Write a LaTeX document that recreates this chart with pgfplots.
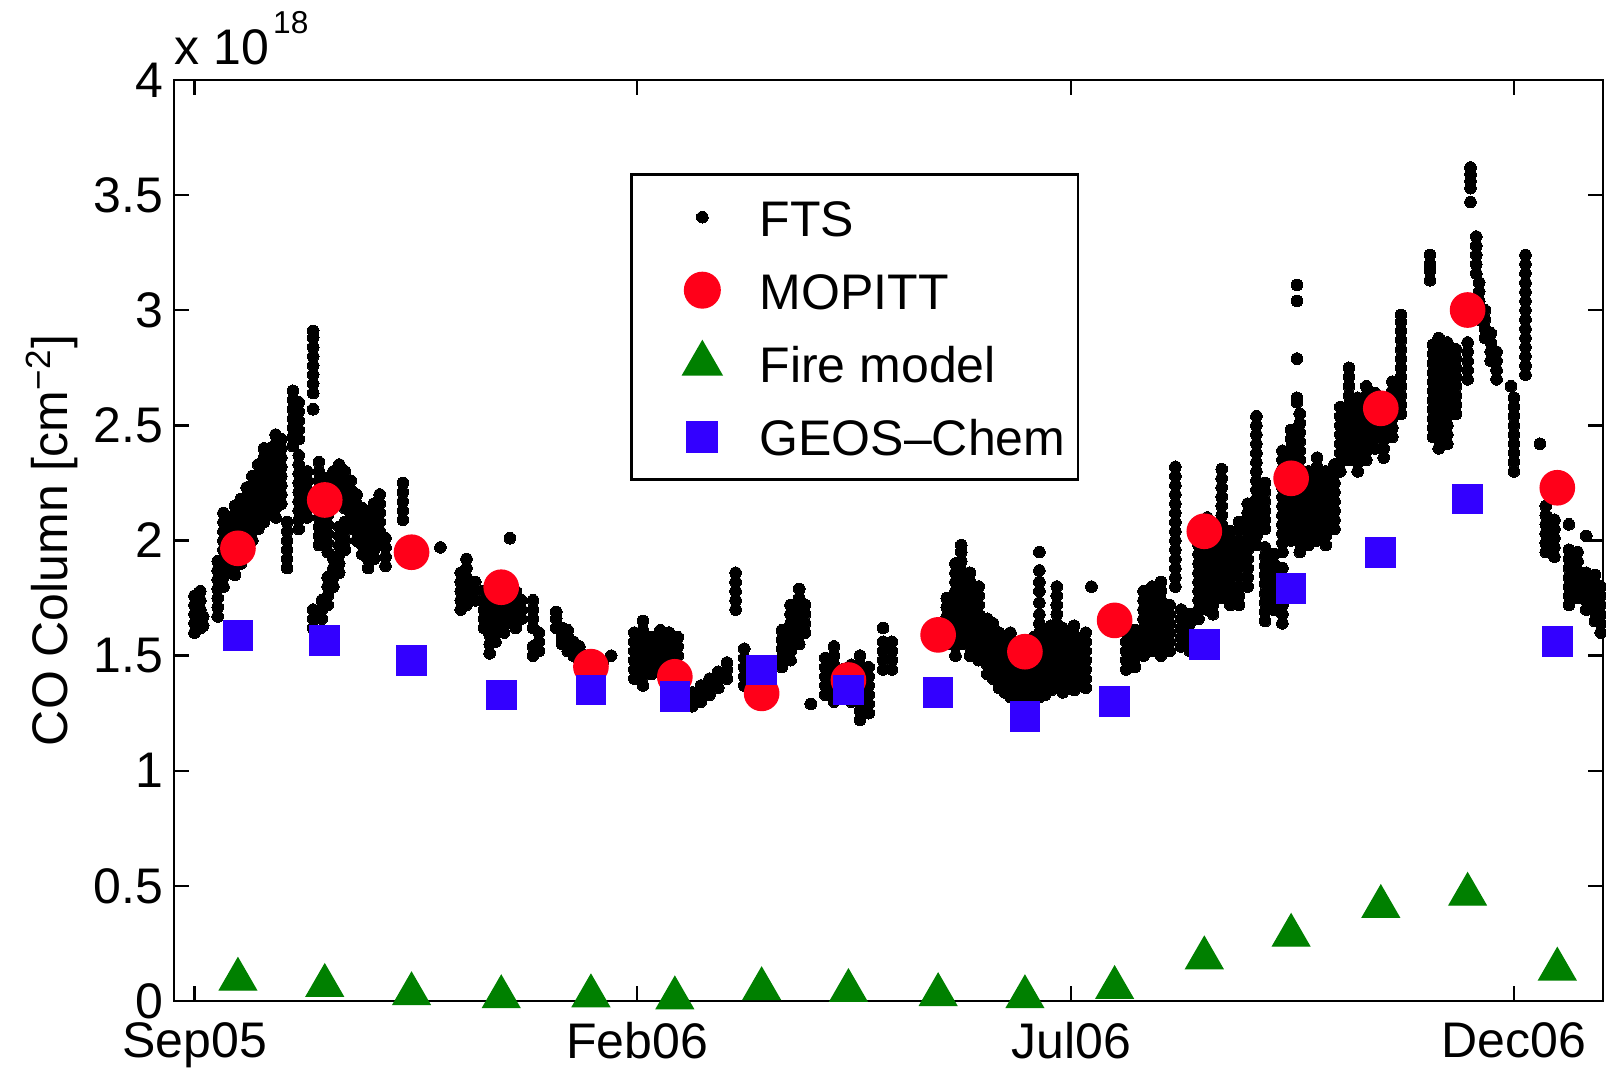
\documentclass[border=0pt]{standalone}
\usepackage{fontspec}
\setmainfont{Liberation Sans}
\usepackage{pgfplots}
\pgfplotsset{compat=1.18}

\definecolor{mopittred}{RGB}{255,0,25}
\definecolor{firegreen}{RGB}{0,128,0}
\definecolor{geosblue}{RGB}{51,0,255}
\newcommand\chartfont{\fontsize{15}{18}\selectfont}

% legend glyph: one mark, centred on the text, in a cell of fixed size
\pgfplotsset{mk legend/.style={legend image code/.code={%
  \path[draw=none, fill=none] (-17.5pt,-6.25pt) rectangle (7pt,6.25pt);
  \draw[##1] plot coordinates {(0pt,0pt)};}}}

\begin{document}
\begin{tikzpicture}
\begin{axis}[
  at={(0,0)}, anchor=south west,
  scale only axis, width=428.7pt, height=276.3pt,
  xmin=-7.1, xmax=486.8, ymin=0, ymax=4,
  clip=false,
  axis line style={line width=0.8pt},
  tick style={line width=0.7pt, black},
  tick align=inside, major tick length=4.5pt,
  xtick pos=both, ytick pos=both,
  xtick={0,153,303,456}, xticklabels={Sep05,Feb06,Jul06,Dec06},
  ytick={0,0.5,1,1.5,2,2.5,3,3.5,4},
  yticklabels={0,0.5,1,1.5,2,2.5,3,3.5,4},
  xticklabel style={font=\chartfont, inner sep=0pt, anchor=north, yshift=-6.3pt},
  yticklabel style={font=\chartfont, inner sep=0pt, anchor=east, xshift=-3pt},
  ylabel={CO Column [cm\textsuperscript{−2}]},
  ylabel style={font=\chartfont, inner sep=0pt, at={(axis description cs:0,0.5)}, anchor=base, yshift=31.8pt},
  legend style={at={(rel axis cs:0.3191,0.899)}, anchor=north west,
    draw=black, line width=0.8pt, inner xsep=3.8pt, inner ysep=6.6pt,
    row sep=9.4pt, column sep=10.2pt, font=\chartfont,
    nodes={inner sep=0pt, text height=12pt, text depth=0.5pt}},
  legend cell align=left,
]

% FTS: individual column retrievals (days since 1 Sep 2005, 10^18 molec cm^-2)
\addplot[only marks, mark=*, mark size=1.75pt, black, mark options={draw=black, fill=black, line width=0pt}, mk legend] coordinates {
(0,1.60)(0,1.64)(0,1.68)(0,1.72)(0,1.76)
(2,1.62)(2,1.66)(2,1.70)(2,1.74)(2,1.78)(3,1.63)(3,1.67)
(8,1.67)(8,1.71)(8,1.75)(8,1.79)(8,1.83)(8,1.87)(8,1.91)
(10,1.80)(10,1.84)(10,1.88)(10,1.92)(10,1.96)(10,2.00)(10,2.04)(10,2.08)(10,2.12)
(12,1.86)(12,1.90)(12,1.94)(12,1.98)(12,2.02)(12,2.06)(12,2.10)
(14,1.85)(14,1.89)(14,2.03)(14,2.07)(14,2.11)(14,2.15)
(16,1.90)(16,1.94)(16,1.98)(16,2.02)(16,2.06)(16,2.10)(16,2.14)(16,2.18)
(18,1.95)(18,1.99)(18,2.03)(18,2.07)(18,2.11)(18,2.15)(18,2.19)(18,2.23)
(20,2.00)(20,2.04)(20,2.08)(20,2.12)(20,2.16)(20,2.20)(20,2.24)(20,2.28)
(22,2.05)(22,2.09)(22,2.13)(22,2.17)(22,2.21)(22,2.25)(22,2.29)(22,2.33)
(24,2.08)(24,2.12)(24,2.16)(24,2.20)(24,2.24)(24,2.28)(24,2.32)(24,2.36)(24,2.40)
(26,2.12)(26,2.16)(26,2.20)(26,2.24)(26,2.28)(26,2.32)(26,2.36)(26,2.40)
(28,2.10)(28,2.14)(28,2.18)(28,2.22)(28,2.26)(28,2.30)(28,2.34)(28,2.38)(28,2.42)(28,2.46)
(30,2.16)(30,2.20)(30,2.24)(30,2.28)(30,2.32)(30,2.36)(30,2.40)(30,2.44)
(32,1.88)(32,1.92)(32,1.96)(32,2.00)(32,2.04)(32,2.08)
(34,2.41)(34,2.45)(34,2.49)(34,2.53)(34,2.57)(34,2.61)(34,2.65)
(36,2.05)(36,2.09)(36,2.13)(36,2.17)(36,2.21)(36,2.25)(36,2.29)(36,2.33)(36,2.37)(36,2.44)(36,2.48)(36,2.52)(36,2.56)(36,2.60)
(39,2.10)(39,2.14)(39,2.18)(39,2.22)(39,2.26)(39,2.30)
(41,2.57)(41,2.64)(41,2.68)(41,2.72)(41,2.76)(41,2.80)(41,2.84)(41,2.88)(41,2.91)
(41,1.62)(41,1.66)(41,1.70)
(43,1.98)(43,2.02)(43,2.06)(43,2.10)(43,2.14)(43,2.18)(43,2.22)(43,2.26)(43,2.30)(43,2.34)
(44,1.66)(44,1.70)(44,1.74)
(46,1.72)(46,1.76)(46,1.80)(46,1.84)(46,1.95)(46,1.99)(46,2.03)(46,2.07)(46,2.11)(46,2.15)(46,2.19)(46,2.23)(46,2.27)
(48,1.80)(48,1.84)(48,1.88)(48,1.92)(48,2.18)(48,2.22)(48,2.26)(48,2.30)
(50,1.86)(50,1.90)(50,1.94)(50,1.98)(50,2.02)(50,2.06)(50,2.22)(50,2.26)(50,2.30)(50,2.33)
(52,1.96)(52,2.00)(52,2.04)(52,2.08)(52,2.14)(52,2.18)(52,2.22)(52,2.26)(52,2.30)
(54,2.06)(54,2.10)(54,2.14)(54,2.18)(54,2.22)(54,2.26)
(56,2.00)(56,2.04)(56,2.08)(56,2.12)(56,2.16)(56,2.20)
(58,1.94)(58,1.98)(58,2.02)(58,2.06)(58,2.10)(58,2.14)
(60,1.88)(60,1.92)(60,1.96)(60,2.00)(60,2.04)(60,2.08)(60,2.12)
(62,1.92)(62,1.96)(62,2.00)(62,2.04)(62,2.08)(62,2.12)(62,2.16)
(64,2.00)(64,2.04)(64,2.08)(64,2.12)(64,2.16)(64,2.20)
(66,1.89)(66,1.93)(66,1.97)(66,2.01)
(72,2.09)(72,2.13)(72,2.17)(72,2.21)(72,2.25)
(85,1.97)
(92,1.70)(92,1.74)(92,1.78)(92,1.82)(92,1.86)
(94,1.72)(94,1.76)(94,1.80)(94,1.84)(94,1.88)(94,1.92)
(97,1.74)(97,1.78)(97,1.82)
(100,1.62)(100,1.66)(100,1.70)(100,1.74)(100,1.78)
(102,1.51)(102,1.55)(102,1.59)(102,1.64)(102,1.68)(102,1.72)(102,1.76)
(104,1.56)(104,1.60)(104,1.64)(104,1.68)(104,1.72)(104,1.76)(104,1.80)
(107,1.60)(107,1.64)(107,1.68)(107,1.72)(107,1.76)(107,1.80)(107,1.84)
(109,1.66)(109,1.70)(109,1.74)(109,1.78)(109,1.82)(109,2.01)
(111,1.62)(111,1.66)(111,1.70)(111,1.74)(111,1.78)
(113,1.66)(113,1.70)(113,1.74)
(117,1.50)(117,1.54)(117,1.62)(117,1.66)(117,1.70)(117,1.74)
(119,1.52)(119,1.56)(119,1.60)
(125,1.62)(125,1.66)(125,1.69)
(127,1.55)(127,1.58)(127,1.62)
(129,1.52)(129,1.55)(129,1.58)(129,1.61)
(131,1.50)(131,1.53)(131,1.56)
(133,1.48)(133,1.51)(133,1.54)
(135,1.47)(135,1.50)(138,1.46)(138,1.49)(141,1.47)(144,1.50)
(152,1.40)(152,1.44)(152,1.48)(152,1.52)(152,1.56)(152,1.60)
(155,1.37)(155,1.41)(155,1.45)(155,1.49)(155,1.53)(155,1.57)(155,1.61)(155,1.65)
(158,1.42)(158,1.46)(158,1.50)(158,1.54)(158,1.58)
(161,1.45)(161,1.49)(161,1.53)(161,1.57)(161,1.61)
(164,1.40)(164,1.44)(164,1.48)(164,1.52)(164,1.56)(164,1.60)
(167,1.42)(167,1.46)(167,1.50)(167,1.54)(167,1.58)
(172,1.28)(172,1.31)(172,1.34)(175,1.30)(175,1.34)(175,1.37)
(178,1.33)(178,1.37)(178,1.40)(181,1.36)(181,1.40)(181,1.43)
(184,1.40)(184,1.44)(184,1.47)
(187,1.70)(187,1.74)(187,1.78)(187,1.82)(187,1.86)
(190,1.37)(190,1.41)(190,1.45)(190,1.49)(190,1.53)
(203,1.45)(203,1.49)(203,1.53)(203,1.57)(203,1.61)
(206,1.48)(206,1.52)(206,1.56)(206,1.60)(206,1.64)(206,1.68)(206,1.72)
(209,1.55)(209,1.59)(209,1.63)(209,1.67)(209,1.71)(209,1.75)(209,1.79)
(211,1.60)(211,1.64)(211,1.68)(211,1.72)
(213,1.29)
(218,1.33)(218,1.37)(218,1.41)(218,1.45)(218,1.49)
(221,1.30)(221,1.34)(221,1.38)(221,1.42)(221,1.46)(221,1.50)(221,1.54)
(224,1.36)(224,1.40)(224,1.44)
(227,1.30)(227,1.34)(227,1.38)(227,1.42)(227,1.46)
(230,1.22)(230,1.26)(230,1.30)(230,1.34)(230,1.38)(230,1.42)(230,1.46)(230,1.50)
(233,1.25)(233,1.29)(233,1.33)(233,1.37)(233,1.41)(233,1.45)
(238,1.44)(238,1.48)(238,1.52)(238,1.56)(238,1.62)
(241,1.44)(241,1.48)(241,1.52)(241,1.56)
(260,1.55)(260,1.59)(260,1.63)(260,1.67)(260,1.71)(260,1.75)
(263,1.50)(263,1.54)(263,1.58)(263,1.62)(263,1.66)(263,1.70)(263,1.74)(263,1.78)(263,1.82)(263,1.86)(263,1.90)
(265,1.55)(265,1.59)(265,1.63)(265,1.67)(265,1.71)(265,1.75)(265,1.79)(265,1.83)(265,1.87)(265,1.91)(265,1.95)(265,1.98)
(268,1.50)(268,1.54)(268,1.58)(268,1.62)(268,1.66)(268,1.70)(268,1.74)(268,1.78)(268,1.82)(268,1.86)
(271,1.48)(271,1.52)(271,1.56)(271,1.60)(271,1.64)(271,1.68)(271,1.72)(271,1.76)(271,1.80)
(274,1.42)(274,1.46)(274,1.50)(274,1.54)(274,1.58)(274,1.62)(274,1.66)
(276,1.40)(276,1.44)(276,1.48)(276,1.52)(276,1.56)(276,1.60)(276,1.64)
(278,1.36)(278,1.40)(278,1.44)(278,1.48)(278,1.52)(278,1.56)(278,1.60)
(280,1.34)(280,1.38)(280,1.42)(280,1.46)(280,1.50)(280,1.54)(280,1.58)
(282,1.32)(282,1.36)(282,1.40)(282,1.44)(282,1.48)(282,1.52)(282,1.56)(282,1.60)
(284,1.31)(284,1.35)(284,1.39)(284,1.43)(284,1.47)(284,1.51)(284,1.55)
(286,1.30)(286,1.34)(286,1.38)(286,1.42)(286,1.46)(286,1.50)
(288,1.29)(288,1.33)(288,1.37)(288,1.41)(288,1.45)(288,1.49)(288,1.53)
(290,1.30)(290,1.34)(290,1.38)(290,1.42)(290,1.46)(290,1.50)(290,1.54)(290,1.58)
(292,1.32)(292,1.36)(292,1.40)(292,1.44)(292,1.48)(292,1.52)(292,1.56)(292,1.60)(292,1.64)(292,1.68)(292,1.73)(292,1.78)(292,1.82)(292,1.87)(292,1.95)
(294,1.33)(294,1.37)(294,1.41)(294,1.45)(294,1.49)(294,1.53)(294,1.57)(294,1.61)
(296,1.35)(296,1.39)(296,1.43)(296,1.47)(296,1.51)(296,1.55)(296,1.59)(296,1.63)
(298,1.36)(298,1.40)(298,1.44)(298,1.48)(298,1.52)(298,1.56)(298,1.60)(298,1.64)(298,1.68)(298,1.72)(298,1.76)(298,1.80)
(300,1.34)(300,1.38)(300,1.42)(300,1.46)(300,1.50)(300,1.54)(300,1.58)(300,1.62)
(302,1.36)(302,1.40)(302,1.44)(302,1.48)(302,1.52)(302,1.56)(302,1.60)
(304,1.35)(304,1.39)(304,1.43)(304,1.47)(304,1.51)(304,1.55)(304,1.59)(304,1.63)
(306,1.37)(306,1.41)(306,1.45)(306,1.49)(306,1.53)(306,1.57)
(308,1.36)(308,1.40)(308,1.44)(308,1.48)(308,1.52)(308,1.56)(308,1.60)
(310,1.80)
(322,1.44)(322,1.48)(322,1.52)(322,1.56)(322,1.60)
(325,1.45)(325,1.49)(325,1.53)(325,1.57)(325,1.61)
(328,1.50)(328,1.54)(328,1.58)(328,1.62)(328,1.66)(328,1.70)(328,1.74)(328,1.78)
(331,1.52)(331,1.56)(331,1.60)(331,1.64)(331,1.68)(331,1.72)(331,1.76)(331,1.80)
(334,1.50)(334,1.54)(334,1.58)(334,1.62)(334,1.66)(334,1.70)(334,1.74)(334,1.78)(334,1.82)
(337,1.52)(337,1.56)(337,1.60)(337,1.64)(337,1.68)(337,1.72)
(339,1.80)(339,1.84)(339,1.88)(339,1.92)(339,1.96)(339,2.00)(339,2.04)(339,2.08)(339,2.12)(339,2.16)(339,2.20)(339,2.24)(339,2.28)(339,2.32)
(341,1.54)(341,1.58)(341,1.62)(341,1.66)(341,1.70)
(344,1.52)(344,1.56)(344,1.60)(344,1.64)(344,1.68)
(347,1.66)(347,1.70)(347,1.74)(347,1.78)(347,1.82)(347,1.86)(347,1.90)(347,1.94)(347,1.98)
(350,1.70)(350,1.74)(350,1.78)(350,1.82)(350,1.86)(350,1.90)(350,1.94)(350,1.98)(350,2.02)(350,2.06)(350,2.10)
(352,1.68)(352,1.72)(352,1.76)(352,1.80)(352,1.84)(352,1.88)(352,1.92)(352,1.96)(352,2.00)
(355,1.75)(355,1.79)(355,1.83)(355,1.87)(355,1.91)(355,1.95)(355,1.99)(355,2.03)(355,2.07)(355,2.11)(355,2.15)(355,2.19)(355,2.23)(355,2.27)(355,2.31)
(358,1.72)(358,1.76)(358,1.80)(358,1.84)(358,1.88)(358,1.92)(358,1.96)(358,2.00)(358,2.04)
(361,1.72)(361,1.76)(361,1.80)(361,1.84)(361,1.88)(361,1.92)(361,1.96)(361,2.00)(361,2.04)(361,2.08)
(364,1.80)(364,1.84)(364,1.88)(364,1.92)(364,1.96)(364,2.00)(364,2.04)(364,2.08)(364,2.12)(364,2.16)
(367,1.98)(367,2.02)(367,2.06)(367,2.10)(367,2.14)(367,2.18)(367,2.22)(367,2.26)(367,2.30)(367,2.34)(367,2.38)(367,2.42)(367,2.46)(367,2.50)(367,2.54)
(370,1.65)(370,1.69)(370,1.73)(370,1.77)(370,1.81)(370,1.85)(370,1.89)(370,1.93)(370,1.97)(370,2.05)(370,2.09)(370,2.13)(370,2.17)(370,2.21)(370,2.25)
(373,1.70)(373,1.74)(373,1.78)(373,1.82)(373,1.86)(373,1.90)(373,1.94)
(376,1.64)(376,1.68)(376,1.72)(376,1.76)(376,1.80)(376,1.84)(376,1.88)(376,1.95)(376,1.99)(376,2.03)(376,2.07)(376,2.11)(376,2.15)(376,2.19)(376,2.23)(376,2.27)(376,2.31)(376,2.35)(376,2.39)
(379,2.00)(379,2.04)(379,2.08)(379,2.12)(379,2.16)(379,2.20)(379,2.24)(379,2.28)(379,2.32)(379,2.36)(379,2.40)(379,2.44)(379,2.48)
(381,2.60)(381,2.62)(381,2.79)(381,3.04)(381,3.11)
(382,1.95)(382,1.99)(382,2.03)(382,2.07)(382,2.11)(382,2.15)(382,2.19)(382,2.23)(382,2.27)(382,2.31)(382,2.35)(382,2.39)(382,2.43)(382,2.47)(382,2.51)(382,2.55)
(385,1.98)(385,2.02)(385,2.06)(385,2.10)(385,2.14)(385,2.18)(385,2.22)(385,2.26)(385,2.30)
(388,2.00)(388,2.04)(388,2.08)(388,2.12)(388,2.16)(388,2.20)(388,2.24)(388,2.28)(388,2.32)(388,2.36)
(391,1.98)(391,2.02)(391,2.06)(391,2.10)(391,2.14)(391,2.18)(391,2.22)(391,2.26)(391,2.30)
(394,2.05)(394,2.09)(394,2.13)(394,2.17)(394,2.21)(394,2.25)(394,2.29)(394,2.33)
(396,2.30)(396,2.34)(396,2.38)(396,2.42)(396,2.46)(396,2.50)(396,2.54)(396,2.58)
(399,2.35)(399,2.39)(399,2.43)(399,2.47)(399,2.51)(399,2.55)(399,2.59)(399,2.63)(399,2.67)(399,2.71)(399,2.75)
(402,2.30)(402,2.34)(402,2.38)(402,2.42)(402,2.46)(402,2.50)(402,2.54)(402,2.58)(402,2.62)
(405,2.35)(405,2.39)(405,2.43)(405,2.47)(405,2.51)(405,2.55)(405,2.59)(405,2.63)(405,2.67)
(408,2.40)(408,2.44)(408,2.48)(408,2.52)(408,2.56)(408,2.60)(408,2.64)
(411,2.36)(411,2.40)(411,2.44)(411,2.48)(411,2.52)(411,2.56)
(414,2.45)(414,2.49)(414,2.53)(414,2.57)(414,2.61)(414,2.65)(414,2.69)
(417,2.55)(417,2.59)(417,2.63)(417,2.67)(417,2.71)(417,2.75)(417,2.79)(417,2.83)(417,2.87)(417,2.91)(417,2.95)(417,2.98)
(427,3.13)(427,3.17)(427,3.20)(427,3.24)
(428,2.45)(428,2.49)(428,2.53)(428,2.57)(428,2.61)(428,2.65)(428,2.69)(428,2.73)(428,2.77)(428,2.81)(428,2.85)
(430,2.40)(430,2.44)(430,2.48)(430,2.52)(430,2.56)(430,2.60)(430,2.64)(430,2.68)(430,2.72)(430,2.76)(430,2.80)(430,2.84)(430,2.88)
(433,2.42)(433,2.46)(433,2.50)(433,2.54)(433,2.58)(433,2.62)(433,2.66)(433,2.70)(433,2.74)(433,2.78)(433,2.82)(433,2.86)
(436,2.55)(436,2.59)(436,2.63)(436,2.67)(436,2.71)(436,2.75)(436,2.79)(436,2.83)
(440,2.70)(440,2.74)(440,2.78)(440,2.82)(440,2.86)
(441,3.47)(441,3.53)(441,3.56)(441,3.59)(441,3.62)
(443,3.16)(443,3.20)(443,3.24)(443,3.28)(443,3.32)
(444,2.96)(444,3.00)(444,3.04)(444,3.08)(444,3.12)
(446,2.88)(446,2.92)(446,2.96)(446,3.00)
(448,2.78)(448,2.82)(448,2.86)(448,2.90)
(450,2.70)(450,2.74)(450,2.78)(450,2.82)
(455,2.67)
(456,2.30)(456,2.34)(456,2.38)(456,2.42)(456,2.46)(456,2.50)(456,2.54)(456,2.58)(456,2.62)
(460,2.72)(460,2.76)(460,2.80)(460,2.84)(460,2.88)(460,2.92)(460,2.96)(460,3.00)(460,3.04)(460,3.08)(460,3.12)(460,3.16)(460,3.20)(460,3.24)
(465,2.42)
(467,1.95)(467,1.99)(467,2.03)(467,2.07)(467,2.11)(467,2.15)
(470,1.93)(470,1.97)(470,2.01)(470,2.05)(470,2.09)
(475,1.72)(475,1.76)(475,1.80)(475,1.84)(475,1.88)(475,1.92)(475,1.96)(475,2.07)
(478,1.75)(478,1.79)(478,1.83)(478,1.87)(478,1.91)(478,1.95)
(481,1.70)(481,1.74)(481,1.78)(481,1.82)(481,1.86)(481,2.02)
(484,1.65)(484,1.69)(484,1.73)(484,1.77)(484,1.81)(484,1.85)
(486,1.60)(486,1.64)(486,1.68)(486,1.72)(486,1.76)(486,1.80)
};
\addlegendentry{FTS}

% MOPITT monthly means
\addplot[only marks, mark=*, mark size=5.15pt, color=mopittred, mark options={draw=mopittred, fill=mopittred}, mk legend] coordinates {
(15,1.966)(45,2.176)(75,1.949)(106,1.797)(137,1.452)(166,1.408)(196,1.336)(226,1.394)
(257,1.590)(287,1.517)(318,1.653)(349,2.040)(379,2.270)(410,2.574)(440,3.001)(471,2.229)
};
\addlegendentry{MOPITT}

% fire model contribution
\addplot[only marks, mark=triangle*, mark size=6.4pt, color=firegreen, mark options={draw=firegreen, fill=firegreen}, mk legend] coordinates {
(15,0.094)(45,0.067)(75,0.031)(106,0.018)(137,0.022)(166,0.013)(196,0.053)(226,0.045)
(257,0.027)(287,0.018)(318,0.058)(349,0.187)(379,0.285)(410,0.410)(440,0.463)(471,0.138)
};
\addlegendentry{Fire model}

% GEOS-Chem monthly means
\addplot[only marks, mark=square*, mark size=4.4pt, color=geosblue, mark options={draw=geosblue, fill=geosblue}, mk legend] coordinates {
(15,1.588)(45,1.565)(75,1.478)(106,1.329)(137,1.351)(166,1.322)(196,1.438)(226,1.351)
(257,1.339)(287,1.235)(318,1.300)(349,1.549)(379,1.792)(410,1.949)(440,2.180)(471,1.561)
};
\addlegendentry{GEOS--Chem}

% scale factor of the column axis
\node[anchor=base west, inner sep=0pt, yshift=4.5pt, font=\chartfont] at (rel axis cs:0,1)
  {x 10\hspace{1.2pt}\raisebox{9.3pt}{\fontsize{9.5}{10}\selectfont 18}};
\end{axis}
\pgfresetboundingbox
\path[use as bounding box] (-52.2pt,-20.4pt) rectangle (429.6pt,300.3pt);
\end{tikzpicture}
\end{document}
